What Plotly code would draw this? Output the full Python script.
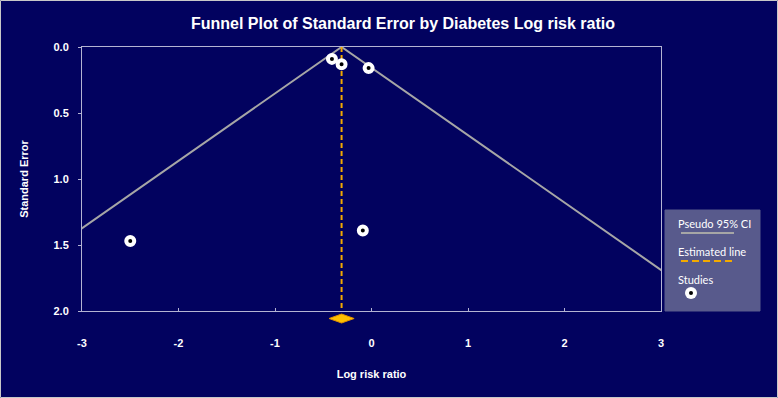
import plotly.graph_objects as go

# ---- data ----
study_lrr = [-0.41, -0.31, -0.03, -2.50, -0.09]
study_se = [0.09, 0.13, 0.16, 1.47, 1.39]
estimate = -0.31
estimate_ci = [-0.44, -0.18]
ci_x = [-4.23, -0.31, 3.61]
ci_se = [2.0, 0.0, 2.0]
x_ticks = [-3, -2, -1, 0, 1, 2, 3]
y_ticks = [0.0, 0.5, 1.0, 1.5, 2.0]

BG = "#02025f"
FRAME = "#b4b4d2"
FONT = "Liberation Sans, Arial, sans-serif"
LEGFONT = "Lato, Open Sans, sans-serif"

W, H = 778, 398
ML, MR, MT, MB = 82, 117, 47, 87
PW, PH = W - ML - MR, H - MT - MB

def px_x(p):
    return (p - ML) / PW

def px_y(p):
    return (H - MB - p) / PH

fig = go.Figure()

fig.add_trace(go.Scatter(x=ci_x, y=ci_se, mode="lines",
                         line=dict(color="#a6a6a6", width=2),
                         showlegend=False, hoverinfo="skip"))
fig.add_trace(go.Scatter(x=[estimate, estimate], y=[0, 2], mode="lines",
                         line=dict(color="#f2a900", width=2, dash="5px,3px"),
                         showlegend=False, hoverinfo="skip"))
fig.add_trace(go.Scatter(x=study_lrr, y=study_se, mode="markers",
                         marker=dict(symbol="circle", size=8, color="#000000",
                                     line=dict(color="#ffffff", width=4)),
                         showlegend=False, cliponaxis=False))

shapes = []
# diamond for pooled estimate (below axis)
yc, hh = px_y(318.5), 4.5 / PH
shapes.append(dict(type="path", xref="x", yref="paper",
                   path=f"M {estimate_ci[0]},{yc} L {estimate},{yc+hh} L {estimate_ci[1]},{yc} L {estimate},{yc-hh} Z",
                   fillcolor="#ffc000", line=dict(color="#e09000", width=1)))
# outer border
shapes.append(dict(type="rect", xref="paper", yref="paper",
                   x0=px_x(0.5), x1=px_x(W - 0.5), y0=px_y(H - 0.5), y1=px_y(0.5),
                   line=dict(color="#c8c8c8", width=1)))
# legend box
shapes.append(dict(type="rect", xref="paper", yref="paper",
                   x0=px_x(665), x1=px_x(760), y0=px_y(311), y1=px_y(210),
                   fillcolor="#585a8c", line=dict(color="#585a8c", width=1)))
shapes.append(dict(type="line", xref="paper", yref="paper",
                   x0=px_x(681), x1=px_x(734), y0=px_y(233), y1=px_y(233),
                   line=dict(color="#a6a6a6", width=2)))
shapes.append(dict(type="line", xref="paper", yref="paper",
                   x0=px_x(681), x1=px_x(734), y0=px_y(261), y1=px_y(261),
                   line=dict(color="#f2a900", width=2, dash="7px,4px")))
shapes.append(dict(type="circle", xref="paper", yref="paper",
                   x0=px_x(685), x1=px_x(697), y0=px_y(299), y1=px_y(287),
                   fillcolor="#ffffff", line=dict(width=0)))
shapes.append(dict(type="circle", xref="paper", yref="paper",
                   x0=px_x(689), x1=px_x(693), y0=px_y(295), y1=px_y(291),
                   fillcolor="#000000", line=dict(width=0)))

annotations = []
for txt, yp in [("Pseudo 95% CI", 223), ("Estimated line", 251), ("Studies", 279)]:
    annotations.append(dict(text=txt, xref="paper", yref="paper", x=px_x(676), y=px_y(yp),
                            xanchor="left", yanchor="middle", showarrow=False,
                            font=dict(family=LEGFONT, size=11, color="#ffffff")))

fig.update_layout(
    width=W, height=H,
    margin=dict(l=ML, r=MR, t=MT, b=MB),
    paper_bgcolor=BG, plot_bgcolor=BG,
    title=dict(text="<b>Funnel Plot of Standard Error by Diabetes Log risk ratio</b>",
               x=px_x(403), xref="paper", xanchor="center", y=1 - 23 / H, yanchor="middle",
               font=dict(family=FONT, size=16, color="#ffffff")),
    shapes=shapes, annotations=annotations,
    showlegend=False,
)
fig.update_xaxes(range=[-3, 3], tickvals=x_ticks, ticktext=[f"<b>{v}</b>" for v in x_ticks],
                 showgrid=False, zeroline=False, showline=True, linecolor=FRAME, linewidth=1,
                 mirror=True, ticks="inside", ticklen=3, tickcolor=FRAME,
                 ticklabelstandoff=22,
                 tickfont=dict(family=FONT, size=11, color="#ffffff"),
                 title=dict(text="<b>Log risk ratio</b>", standoff=22,
                            font=dict(family=FONT, size=11, color="#ffffff")))
fig.update_yaxes(range=[2, 0], tickvals=y_ticks, ticktext=[f"<b>{v:.1f}</b>" for v in y_ticks],
                 showgrid=False, zeroline=False, showline=True, linecolor=FRAME, linewidth=1,
                 mirror=True, ticks="outside", ticklen=3, tickcolor=FRAME,
                 ticklabelstandoff=7,
                 tickfont=dict(family=FONT, size=11, color="#ffffff"),
                 title=dict(text="<b>Standard Error</b>", standoff=22,
                            font=dict(family=FONT, size=11, color="#ffffff")))

fig.write_html("out.html", config={"displayModeBar": False},
               post_script="document.body.style.margin='0';")
